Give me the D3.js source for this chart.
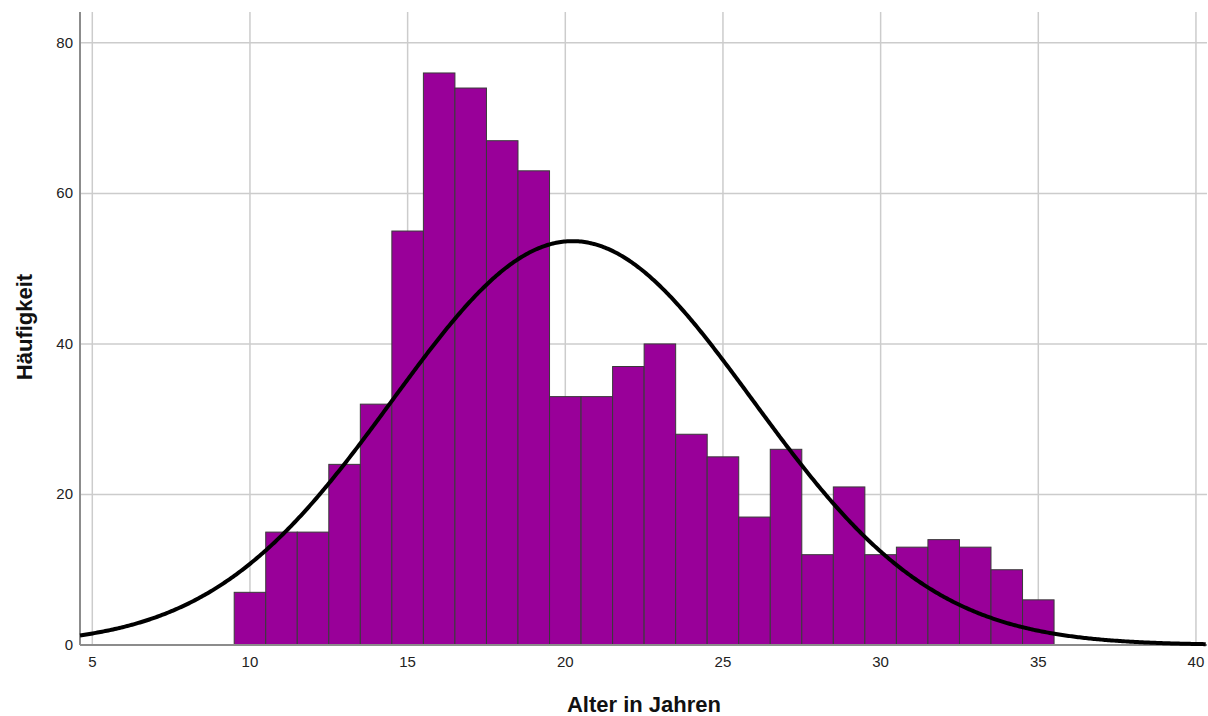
<!DOCTYPE html>
<html>
<head>
<meta charset="utf-8">
<script src="https://cdn.jsdelivr.net/npm/d3@7"></script>
<style>
  body{margin:0;background:#fff;}
  svg{display:block;font-family:"Liberation Sans",Arial,sans-serif;}
</style>
</head>
<body>
<svg id="chart" width="1208" height="716"></svg>
<script>
// histogram bins (age centre) and counts
var ages=[10,11,12,13,14,15,16,17,18,19,20,21,22,23,24,25,26,27,28,29,30,31,32,33,34,35];
var counts=[7,15,15,24,32,55,76,74,67,63,33,33,37,40,28,25,17,26,12,21,12,13,14,13,10,6];
var xTicks=[5,10,15,20,25,30,35,40];
var yTicks=[0,20,40,60,80];
var meanAge=20.23;   // normal curve params
var sdAge=5.71;

var svg=d3.select("#chart");
var plotLeft=80,plotRight=1207,plotTop=12,plotBottom=645;

var x=d3.scaleLinear().domain([4.61,40.35]).range([plotLeft,plotRight]);
var y=d3.scaleLinear().domain([0,84.1]).range([plotBottom,plotTop]);

//grid
svg.append("g").selectAll("line").data(xTicks).enter().append("line")
	.attr("x1",function(d){return x(d);}).attr("x2",function(d){return x(d);})
	.attr("y1",plotTop).attr("y2",plotBottom)
	.attr("stroke","#cccccc").attr("stroke-width",1.5);
svg.append("g").selectAll("line").data(yTicks).enter().append("line")
	.attr("x1",plotLeft).attr("x2",plotRight)
	.attr("y1",function(d){return y(d);}).attr("y2",function(d){return y(d);})
	.attr("stroke","#cccccc").attr("stroke-width",1.5);

//bars
var bins=ages.map(function(a,i){return {age:a,count:counts[i]};});
svg.append("g").selectAll("rect").data(bins).enter().append("rect")
	.attr("x",function(d){return x(d.age-0.5);})
	.attr("width",function(d){return x(d.age+0.5)-x(d.age-0.5);})
	.attr("y",function(d){return y(d.count);})
	.attr("height",function(d){return y(0)-y(d.count);})
	.attr("fill","#990099")
	.attr("stroke","#3a3a3a").attr("stroke-width",1);

//axis lines
svg.append("line").attr("x1",plotLeft).attr("x2",plotLeft).attr("y1",plotTop).attr("y2",plotBottom)
	.attr("stroke","#8c8c8c").attr("stroke-width",2);
svg.append("line").attr("x1",plotLeft).attr("x2",plotRight).attr("y1",plotBottom).attr("y2",plotBottom)
	.attr("stroke","#8c8c8c").attr("stroke-width",2);

//normal curve
var total=d3.sum(counts);
var normal=function(v){
	return total/(sdAge*Math.sqrt(2*Math.PI))*Math.exp(-0.5*Math.pow((v-meanAge)/sdAge,2));
};
var curvePts=d3.range(x.domain()[0],x.domain()[1]+0.001,0.05);
svg.append("path").datum(curvePts)
	.attr("d",d3.line().x(function(d){return x(d);}).y(function(d){return y(normal(d));}))
	.attr("fill","none").attr("stroke","#000").attr("stroke-width",4)
	.attr("stroke-linejoin","round");

//tick labels
svg.append("g").selectAll("text").data(xTicks).enter().append("text")
	.attr("x",function(d){return x(d);}).attr("y",plotBottom+22)
	.attr("text-anchor","middle").attr("font-size",15).attr("fill","#222")
	.text(function(d){return d;});
svg.append("g").selectAll("text").data(yTicks).enter().append("text")
	.attr("x",plotLeft-7).attr("y",function(d){return y(d)+5;})
	.attr("text-anchor","end").attr("font-size",15).attr("fill","#222")
	.text(function(d){return d;});

//axis titles
svg.append("text").attr("x",644).attr("y",712)
	.attr("text-anchor","middle").attr("font-size",22).attr("font-weight","bold").attr("fill","#111")
	.text("Alter in Jahren");
svg.append("text").attr("transform","translate(32,327) rotate(-90)")
	.attr("text-anchor","middle").attr("font-size",22).attr("font-weight","bold").attr("fill","#111")
	.text("Häufigkeit");
</script>
</body>
</html>
